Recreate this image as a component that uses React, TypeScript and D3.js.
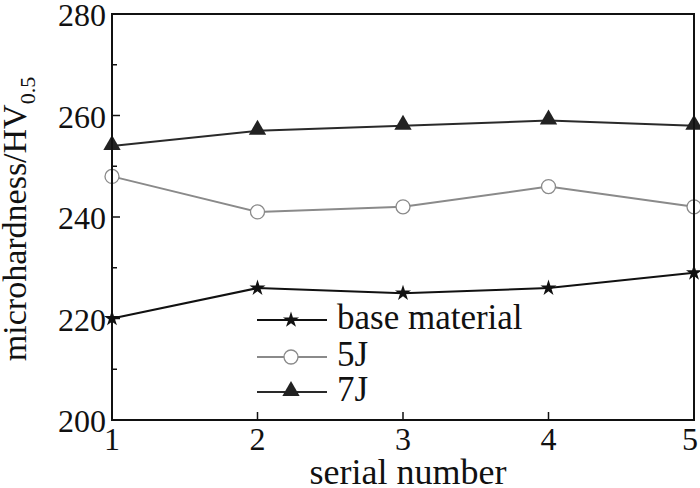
import React from "react";
import * as d3 from "d3";

const serials = [1, 2, 3, 4, 5];
const baseMaterial = [220, 226, 225, 226, 229];
const j5 = [248, 241, 242, 246, 242];
const j7 = [254, 257, 258, 259, 258];
const yTicks = [200, 220, 240, 260, 280];
const yMinor = [210, 230, 250, 270];
const xTicks = [1, 2, 3, 4, 5];

const W = 700, H = 488;
const L = 112, R = 694, T = 14, B = 420;
const FONT = "'Liberation Serif', 'Times New Roman', serif";

export default function App() {
  const x = d3.scaleLinear().domain([1, 5]).range([L, R]);
  const y = d3.scaleLinear().domain([200, 280]).range([B, T]);
  const line = d3.line<number>().x((_, i) => x(serials[i])).y((d) => y(d));
  const star = d3.symbol().type(d3.symbolStar).size(80)() as string;
  const tri = d3.symbol().type(d3.symbolTriangle).size(130)() as string;

  const series = [
    { name: "base material", data: baseMaterial, color: "#111", marker: "star" },
    { name: "5J", data: j5, color: "#8a8a8a", marker: "circle" },
    { name: "7J", data: j7, color: "#2a2a2a", marker: "tri" },
  ];

  const marker = (m: string, cx: number, cy: number, key: string | number) => {
    if (m === "star") return <path key={key} d={star} transform={`translate(${cx},${cy})`} fill="#111" />;
    if (m === "circle") return <circle key={key} cx={cx} cy={cy} r={7} fill="#fff" stroke="#8a8a8a" strokeWidth={1.3} />;
    return <path key={key} d={tri} transform={`translate(${cx},${cy - 1})`} fill="#222" />;
  };

  const legendRows = [320, 357, 392];

  return (
    <svg width={W} height={H} style={{ position: "absolute", left: 0, top: 0, background: "#fff" }}>
      <rect x={0} y={0} width={W} height={H} fill="#fff" />
      {series.map((s) => (
        <g key={s.name}>
          <path d={line(s.data) as string} fill="none" stroke={s.color} strokeWidth={2} />
          {s.data.map((v, i) => marker(s.marker, x(serials[i]), y(v), i))}
        </g>
      ))}
      <rect x={L} y={T} width={R - L} height={B - T} fill="none" stroke="#111" strokeWidth={2} />
      {yTicks.map((t) => (
        <g key={t}>
          <line x1={L} x2={L + 8} y1={y(t)} y2={y(t)} stroke="#111" strokeWidth={1.5} />
          <text x={L - 6} y={y(t) + 12} textAnchor="end" fontFamily={FONT} fontSize={32} fill="#111">{t}</text>
        </g>
      ))}
      {yMinor.map((t) => (
        <line key={t} x1={L} x2={L + 5} y1={y(t)} y2={y(t)} stroke="#111" strokeWidth={1.5} />
      ))}
      {xTicks.map((t) => (
        <g key={t}>
          <line x1={x(t)} x2={x(t)} y1={B} y2={B - 8} stroke="#111" strokeWidth={1.5} />
          <text x={t === 5 ? x(t) - 4 : x(t)} y={450} textAnchor="middle" fontFamily={FONT} fontSize={32} fill="#111">{t}</text>
        </g>
      ))}
      <text x={408} y={484} textAnchor="middle" fontFamily={FONT} fontSize={36} fill="#111">serial number</text>
      <text transform={`translate(26, ${219}) rotate(-90)`} textAnchor="middle" fontFamily={FONT} fontSize={34} fill="#111">
        microhardness/HV<tspan fontSize={22} dy={9}>0.5</tspan>
      </text>
      {series.map((s, i) => (
        <g key={s.name}>
          <line x1={257} x2={327} y1={legendRows[i]} y2={legendRows[i]} stroke={s.color} strokeWidth={2} />
          {marker(s.marker, 291, legendRows[i], "lg")}
          <text x={337} y={legendRows[i] + 9} fontFamily={FONT} fontSize={35} fill="#111">{s.name}</text>
        </g>
      ))}
    </svg>
  );
}
